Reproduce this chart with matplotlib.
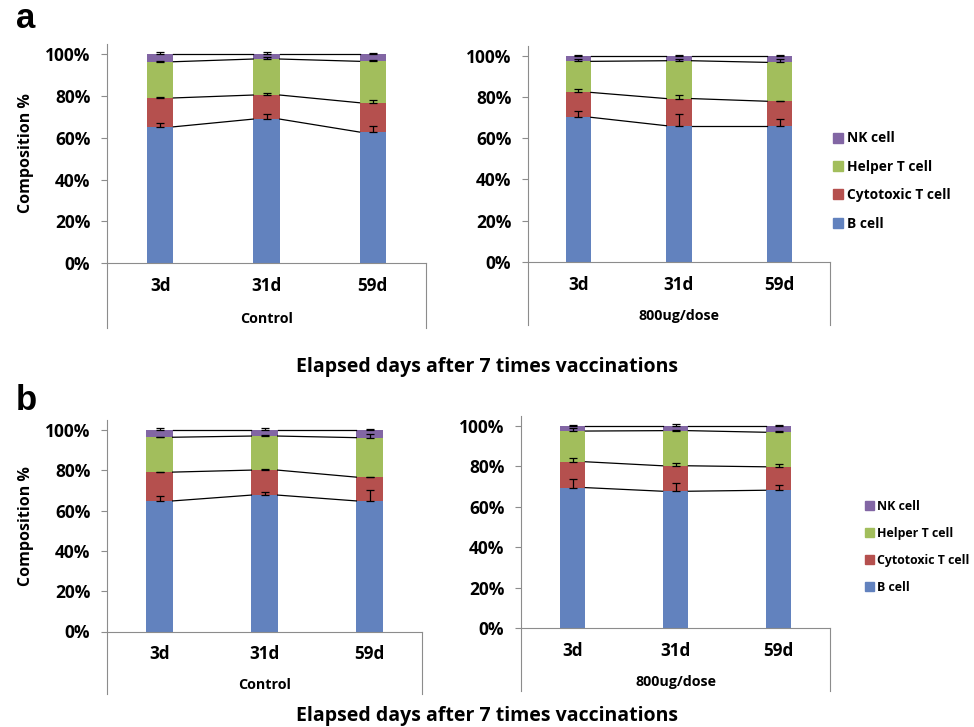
import matplotlib
matplotlib.use("Agg")
import matplotlib.pyplot as plt
from matplotlib import font_manager as fm
from matplotlib.patches import Patch
import numpy as np

# pick a family that really has a bold face installed
bold_fams = {f.name for f in fm.fontManager.ttflist if f.weight in (600, 700, 'bold', 'semibold')}
main_font = next((f for f in ['Noto Sans CJK KR', 'Open Sans', 'Lato', 'Noto Sans', 'Liberation Sans']
                  if f in bold_fams), 'DejaVu Sans')
plt.rcParams['font.family'] = [main_font, 'DejaVu Sans']
plt.rcParams['font.weight'] = 'bold'

# data (percent), rows: B cell, Cytotoxic T cell, Helper T cell, NK cell
cell_types = ['B cell', 'Cytotoxic T cell', 'Helper T cell', 'NK cell']
days = ['3d', '31d', '59d']
groups = ['Control', '800ug/dose']

a_control_mean = [[65.2, 68.9, 62.7], [13.8, 11.5, 14.0], [17.3, 17.2, 19.8], [3.7, 2.4, 3.5]]
a_control_err = [[1.6, 2.4, 2.9], [0.5, 1.1, 1.1], [0.5, 0.8, 0.6], [1.0, 0.8, 0.3]]
a_dose_mean = [[70.2, 66.1, 66.1], [12.1, 13.2, 11.9], [15.1, 18.4, 18.9], [2.6, 2.3, 3.1]]
a_dose_err = [[2.9, 5.7, 3.4], [1.5, 1.5, 0.3], [1.0, 0.8, 1.5], [0.3, 0.3, 0.5]]

b_control_mean = [[64.8, 67.7, 64.8], [14.3, 12.4, 11.8], [17.3, 16.9, 19.6], [3.6, 3.0, 3.8]]
b_control_err = [[2.3, 1.7, 5.3], [0.3, 0.3, 0.3], [0.3, 0.5, 1.7], [1.0, 0.8, 0.3]]
b_dose_mean = [[69.5, 67.7, 68.2], [12.8, 12.6, 11.6], [15.2, 17.4, 17.1], [2.5, 2.3, 3.1]]
b_dose_err = [[4.5, 4.1, 2.8], [1.7, 1.5, 1.2], [1.3, 0.5, 0.5], [0.3, 0.8, 0.5]]

colors = ['#6282BE', '#B5504E', '#A2BE5C', '#8266A4']
gray = '#8c8c8c'
W = 0.25


def draw_panel(ax, means, errs, group, ylabel=False):
    x = np.arange(len(days))
    bottom = np.zeros(len(days))
    tops = []
    for m, e, c in zip(means, errs, colors):
        m = np.array(m) / 100
        ax.bar(x, m, W, bottom=bottom, color=c, zorder=2)
        bottom = bottom + m
        tops.append(bottom.copy())
        ax.errorbar(x, bottom, yerr=[np.zeros(len(days)), np.array(e) / 100], fmt='none',
                    ecolor='black', elinewidth=0.9, capsize=3.2, capthick=0.9, zorder=4)
    # series lines between the bars
    for t in tops:
        for i in range(len(days) - 1):
            ax.plot([x[i] + W / 2, x[i + 1] - W / 2], [t[i], t[i + 1]], color='black', lw=0.9, zorder=3)

    ax.set_xlim(-0.5, len(days) - 0.5)
    ax.set_ylim(0, 1.05)
    ax.set_yticks(np.arange(0, 1.01, 0.2))
    ax.set_yticklabels(['%d%%' % v for v in range(0, 101, 20)], fontsize=12.5, fontweight='bold')
    ax.set_xticks(x)
    ax.set_xticklabels(days, fontsize=12.3, fontweight='bold')
    ax.tick_params(axis='x', length=0, pad=10)
    ax.tick_params(axis='y', length=4, width=0.8, color=gray, pad=8)
    for s in ['top', 'right']:
        ax.spines[s].set_visible(False)
    for s in ['left', 'bottom']:
        ax.spines[s].set_color(gray)
        ax.spines[s].set_linewidth(0.8)
    # multi-level category box
    for xe in [-0.5, len(days) - 0.5]:
        ax.plot([xe, xe], [0, -0.31], color=gray, lw=0.8, clip_on=False)
    ax.text(1, -0.265, group, ha='center', va='center', fontsize=10.3, fontweight='bold')
    if ylabel:
        ax.set_ylabel('Composition %', fontsize=11.5, fontweight='bold', labelpad=8)


fig = plt.figure(figsize=(9.74, 7.27), dpi=100)

def px_axes(l, r, y0, y100):
    # figure fraction rectangle from pixel positions
    h = (y0 - y100) * 1.05
    return [l / 974, (727 - y0) / 727, (r - l) / 974, h / 727]

ax1 = fig.add_axes(px_axes(107, 426, 263.3, 54))
ax2 = fig.add_axes(px_axes(528, 830, 261.7, 56))
ax3 = fig.add_axes(px_axes(107, 422, 631.5, 430))
ax4 = fig.add_axes(px_axes(521, 830, 628, 426))

draw_panel(ax1, a_control_mean, a_control_err, groups[0], ylabel=True)
draw_panel(ax2, a_dose_mean, a_dose_err, groups[1])
draw_panel(ax3, b_control_mean, b_control_err, groups[0], ylabel=True)
draw_panel(ax4, b_dose_mean, b_dose_err, groups[1])

handles = [Patch(color=c, label=l) for c, l in zip(colors, cell_types)][::-1]
for xa, ya, fs, sp in [(833 / 974, (727 - 181) / 727, 9.9, 1.05),
                       (865 / 974, (727 - 547) / 727, 8.9, 1.12)]:
    fig.legend(handles=handles, loc='center left', bbox_to_anchor=(xa, ya), frameon=False,
               handlelength=0.75, handleheight=0.75, handletextpad=0.25,
               labelspacing=sp, borderpad=0, borderaxespad=0,
               prop={'weight': 'bold', 'size': fs})

fig.text(487 / 974, 1 - 367 / 727, 'Elapsed days after 7 times vaccinations', ha='center', va='center',
         fontsize=14, fontweight='bold')
fig.text(487 / 974, 1 - 716 / 727, 'Elapsed days after 7 times vaccinations', ha='center', va='center',
         fontsize=14, fontweight='bold')
fig.text(26 / 974, 1 - 18 / 727, 'a', ha='center', va='center', fontsize=25, fontweight='bold',
         family='Liberation Sans')
fig.text(26 / 974, 1 - 400 / 727, 'b', ha='center', va='center', fontsize=25, fontweight='bold',
         family='Liberation Sans')

fig.savefig('out.png', dpi=100)
